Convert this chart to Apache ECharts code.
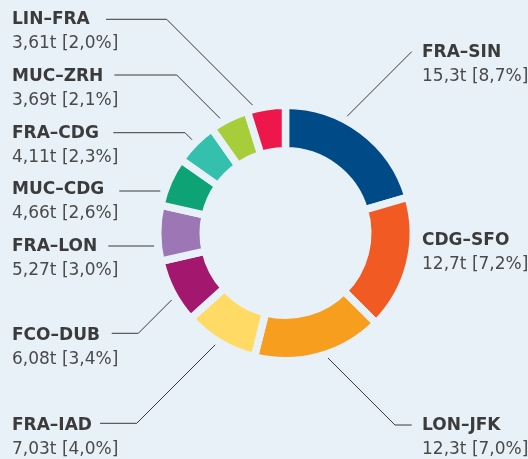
<!DOCTYPE html>
<html><head><meta charset="utf-8">
<style>html,body{margin:0;padding:0;background:#e8f1f7}#c{width:528px;height:459px}</style>
<script src="https://cdn.jsdelivr.net/npm/echarts@6/dist/echarts.min.js"></script>
</head><body><div id="c"></div>
<script>
// ---- data ----
const routes = ['FRA–SIN','CDG–SFO','LON–JFK','FRA–IAD','FCO–DUB','FRA–LON','MUC–CDG','FRA–CDG','MUC–ZRH','LIN–FRA'];
const tonnes = [15.3, 12.7, 12.3, 7.03, 6.08, 5.27, 4.66, 4.11, 3.69, 3.61];
const shares = [8.7, 7.2, 7.0, 4.0, 3.4, 3.0, 2.6, 2.3, 2.1, 2.0];

// ---- style / layout ----
const colors = ['#004a87','#f15a22','#f89e1f','#ffdb66','#a4176f','#9d77b5','#0ea374','#35bfad','#a7cd3a','#ed174c'];
const BG = '#e8f1f7';
const CX = 285.5, CY = 233, R_OUT = 124, R_IN = 86, GAP = 7.5, R_LINE = 132;
const FONT = 'DejaVu Sans', FS = 17, LH = 24;
// label placement: [textX, textCenterY, lineY, lineStartX, elbowX|null]
const labelPos = [
  [422, 52.7, 51.7, 411.7, 411.7],
  [422, 240.7, null, null, null],
  [422, 426, 425, 411.7, 395],
  [12, 426, 423.3, 100, 136.7],
  [12, 336, 333.3, 111.7, 138.3],
  [12, 246.7, 246, 108.3, null],
  [12, 190, 191, 119.3, null],
  [12, 134, 132.7, 113.3, 185],
  [12, 76.7, 75, 114.3, 176.7],
  [12, 19.7, 19.3, 106, 166.7]
];

function fmtT(v) { return v.toPrecision(3).replace('.', ','); }
function fmtP(v) { return v.toFixed(1).replace('.', ','); }

function toCircle(x, y) {
  // 45° diagonal from (x,y) toward the centre until radius R_LINE
  const sx = Math.sign(CX - x), sy = Math.sign(CY - y);
  const dx = x - CX, dy = y - CY;
  const b = 2 * (sx * dx + sy * dy), c = dx * dx + dy * dy - R_LINE * R_LINE;
  const t = (-b - Math.sqrt(b * b - 8 * c)) / 4;
  return [x + sx * t, y + sy * t];
}
function toCircleH(x, y) {
  const sx = Math.sign(CX - x), dy = y - CY;
  return [CX - sx * Math.sqrt(R_LINE * R_LINE - dy * dy), y];
}

const data = routes.map((r, i) => ({
  name: r,
  value: tonnes[i],
  itemStyle: { color: colors[i] },
  labelLine: { show: labelPos[i][2] != null }
}));

const chart = echarts.init(document.getElementById('c'));
chart.setOption({
  backgroundColor: BG,
  animation: false,
  series: [{
    type: 'pie',
    center: [CX, CY],
    radius: [R_IN - GAP / 2, R_OUT + GAP / 2],
    startAngle: 90,
    clockwise: true,
    avoidLabelOverlap: false,
    emphasis: { disabled: true },
    itemStyle: { borderColor: BG, borderWidth: GAP },
    label: {
      show: true,
      position: 'outside',
      formatter: p => '{n|' + routes[p.dataIndex] + '}\n{v|' + fmtT(tonnes[p.dataIndex]) + 't [' + fmtP(shares[p.dataIndex]) + '%]}',
      rich: {
        n: { fontFamily: FONT, fontSize: FS, fontWeight: 'bold', color: '#3b3b3b', lineHeight: LH },
        v: { fontFamily: FONT, fontSize: FS, color: '#4a4a4a', lineHeight: LH }
      }
    },
    labelLine: { show: true, smooth: false, lineStyle: { color: '#3a3a3a', width: 1 } },
    labelLayout: function (params) {
      const lp = labelPos[params.dataIndex];
      const out = { x: lp[0], y: lp[1] - LH / 2, align: 'left', verticalAlign: 'top' };
      if (lp[2] != null) {
        const start = [lp[3], lp[2]];
        let elbow, end;
        if (lp[4] == null) { end = toCircleH(lp[3], lp[2]); elbow = end; }
        else { elbow = [lp[4], lp[2]]; end = toCircle(lp[4], lp[2]); }
        out.labelLinePoints = [end, elbow, start];
      }
      return out;
    },
    data: data
  }]
});
</script>
</body></html>
